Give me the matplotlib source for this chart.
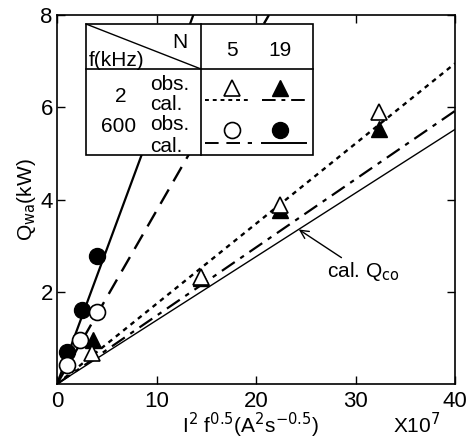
import matplotlib.pyplot as plt
from matplotlib.patches import Rectangle

plt.rcParams['font.family'] = ['Liberation Sans', 'DejaVu Sans']

# observed points, x in units of 1e7 A^2 s^-0.5, y in kW
x_2k_n5 = [3.5, 14.5, 22.4, 32.4]
y_2k_n5 = [0.67, 2.33, 3.89, 5.89]
x_2k_n19 = [3.6, 14.5, 22.4, 32.4]
y_2k_n19 = [0.96, 2.30, 3.78, 5.52]
x_600k_n5 = [0.97, 2.3, 4.07]
y_600k_n5 = [0.41, 0.96, 1.57]
x_600k_n19 = [0.97, 2.47, 3.97]
y_600k_n19 = [0.70, 1.61, 2.78]

# calculated lines (end points)
cal_2k_n5_x, cal_2k_n5_y = [0, 40], [0, 6.95]
cal_2k_n19_x, cal_2k_n19_y = [0, 40], [0, 5.92]
cal_600k_n5_x, cal_600k_n5_y = [0, 21.3], [0, 8]
cal_600k_n19_x, cal_600k_n19_y = [0, 13.7], [0, 8]
cal_qco_x, cal_qco_y = [0, 40], [0, 5.52]

fig = plt.figure(figsize=(4.66, 4.43), dpi=100)
ax = fig.add_axes([57/466, 59/443, 398/466, 369/443])

ax.plot(cal_2k_n5_x, cal_2k_n5_y, color='k', lw=1.7, dashes=(2.0, 2.0))
ax.plot(cal_2k_n19_x, cal_2k_n19_y, color='k', lw=1.6, dashes=(7, 3, 2, 3))
ax.plot(cal_600k_n5_x, cal_600k_n5_y, color='k', lw=1.7, dashes=(7, 4))
ax.plot(cal_600k_n19_x, cal_600k_n19_y, color='k', lw=1.6)
ax.plot(cal_qco_x, cal_qco_y, color='k', lw=1.0)

ms = 11.5
ax.plot(x_2k_n19, y_2k_n19, '^', color='k', ms=ms, zorder=3)
ax.plot(x_2k_n5, y_2k_n5, '^', mfc='white', mec='k', mew=1.2, ms=ms, zorder=4)
ax.plot(x_600k_n19, y_600k_n19, 'o', color='k', ms=ms, zorder=3)
ax.plot(x_600k_n5, y_600k_n5, 'o', mfc='white', mec='k', mew=1.2, ms=ms, zorder=4)

ax.annotate('cal. Q$_{\\mathrm{co}}$', xy=(24.3, 3.35), xytext=(27.1, 2.43),
            fontsize=15, va='center',
            arrowprops=dict(arrowstyle='->', color='k', lw=1.0, shrinkA=0, shrinkB=0))

ax.set_xlim(0, 40)
ax.set_ylim(0, 8)
ax.set_xticks([0, 10, 20, 30, 40])
ax.set_yticks([2, 4, 6, 8])
ax.set_yticklabels(['2', '4', '6', '8'])
ax.tick_params(direction='in', top=True, right=True, labelsize=16, length=6, width=1)
ax.tick_params(axis='y', pad=3)
ax.tick_params(axis='x', pad=5)
for s in ax.spines.values():
    s.set_linewidth(1.2)

ax.set_ylabel('Q$_{\\mathrm{wa}}$(kW)', fontsize=15, labelpad=2)
fig.text(250/466, 1 - 425/443, 'I$^2$ f$^{0.5}$(A$^2$s$^{-0.5}$)', fontsize=15,
         ha='center', va='center')
fig.text(417/466, 1 - 425/443, 'X10$^7$', fontsize=15, ha='center', va='center')

# legend table
def fx(px):
    return (px - 57) / 398

def fy(py):
    return (384 - py) / 369

tr = ax.transAxes
ax.add_patch(Rectangle((fx(86), fy(155)), fx(313) - fx(86), fy(24) - fy(155),
                       transform=tr, facecolor='white', edgecolor='k', lw=1.2, zorder=5))
ax.plot([fx(86), fx(313)], [fy(69), fy(69)], transform=tr, color='k', lw=1.2, zorder=6)
ax.plot([fx(201), fx(201)], [fy(24), fy(155)], transform=tr, color='k', lw=1.2, zorder=6)
ax.plot([fx(86), fx(201)], [fy(24), fy(69)], transform=tr, color='k', lw=1.0, zorder=6)

kw = dict(transform=tr, fontsize=15, zorder=7)
ax.text(fx(188), fy(42), 'N', ha='right', va='center', **kw)
ax.text(fx(89), fy(60), 'f(kHz)', ha='left', va='center', **kw)
ax.text(fx(232), fy(51), '5', ha='center', va='center', **kw)
ax.text(fx(280), fy(51), '19', ha='center', va='center', **kw)
ax.text(fx(121), fy(96), '2', ha='center', va='center', **kw)
ax.text(fx(119), fy(127), '600', ha='center', va='center', **kw)
for py, t in [(85, 'obs.'), (104, 'cal.'), (125, 'obs.'), (146, 'cal.')]:
    ax.text(fx(150), fy(py), t, ha='left', va='center', **kw)

ax.plot([fx(232)], [fy(88)], '^', mfc='white', mec='k', mew=1.2, ms=ms, transform=tr, zorder=7)
ax.plot([fx(280)], [fy(88)], '^', color='k', ms=ms, transform=tr, zorder=7)
ax.plot([fx(232)], [fy(130)], 'o', mfc='white', mec='k', mew=1.2, ms=ms, transform=tr, zorder=7)
ax.plot([fx(280)], [fy(130)], 'o', color='k', ms=ms, transform=tr, zorder=7)
ax.plot([fx(205), fx(250)], [fy(100), fy(100)], transform=tr, color='k', lw=1.4,
        dashes=(2.0, 2.0), zorder=7)
ax.plot([fx(262), fx(308)], [fy(100), fy(100)], transform=tr, color='k', lw=1.4,
        dashes=(7, 3, 2, 3), zorder=7)
ax.plot([fx(205), fx(252)], [fy(143), fy(143)], transform=tr, color='k', lw=1.4,
        dashes=(7, 4), zorder=7)
ax.plot([fx(262), fx(306)], [fy(143), fy(143)], transform=tr, color='k', lw=1.4, zorder=7)

fig.savefig('out.png', dpi=100)
